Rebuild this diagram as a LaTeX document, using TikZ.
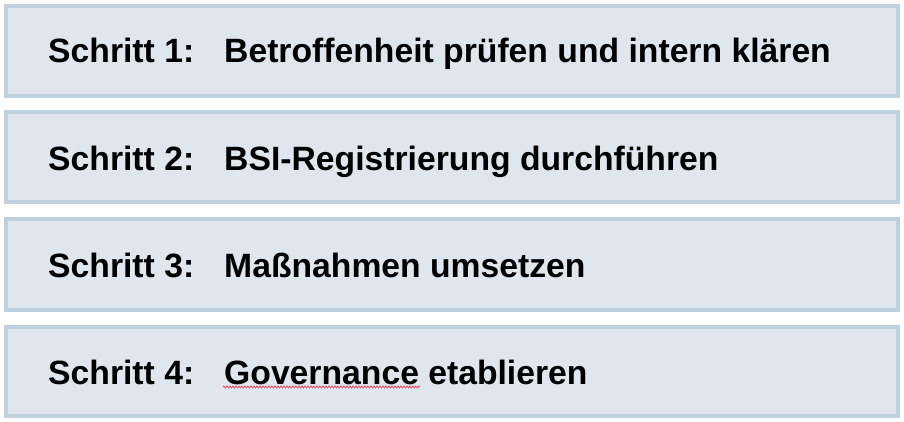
\documentclass[tikz,border=0pt]{standalone}
\usepackage{fontspec}
\setmainfont{Liberation Sans}
\usetikzlibrary{decorations.pathmorphing}
\definecolor{boxfill}{HTML}{DFE6EE}
\definecolor{boxline}{HTML}{BFD0DF}
\definecolor{spellred}{HTML}{E8506A}
\tikzset{
  stepbox/.style={draw=boxline, fill=boxfill, line width=4pt, inner sep=0pt, minimum width=892pt},
  steplabel/.style={anchor=base west, inner sep=0pt, font=\fontsize{33.7}{40}\selectfont\bfseries},
}
\begin{document}
\begin{tikzpicture}[x=1pt,y=-1pt]
\useasboundingbox (0,0) rectangle (904,422);
\node[stepbox, minimum height=90pt] (box1) at (452,51) {};
\node[stepbox, minimum height=90pt] (box2) at (452,157) {};
\node[stepbox, minimum height=91pt] (box3) at (452,264.5) {};
\node[stepbox, minimum height=89pt] (box4) at (452,371.5) {};
\node[steplabel] (s1) at (48,63) {Schritt 1:};
\node[steplabel] (t1) at (224,63) {Betroffenheit prüfen und intern klären};
\node[steplabel] (s2) at (48,171) {Schritt 2:};
\node[steplabel] (t2) at (224,171) {BSI-Registrierung durchführen};
\node[steplabel] (s3) at (48,277) {Schritt 3:};
\node[steplabel] (t3) at (224,277) {Maßnahmen umsetzen};
\node[steplabel] (s4) at (48,384) {Schritt 4:};
\node[steplabel] (t4) at (224,384) {Governance etablieren};
\coordinate (sqa) at (223,387);
\coordinate (sqb) at (420,387);
\draw[spellred, line width=0.9pt, decorate, decoration={snake, amplitude=0.9pt, segment length=3pt}] (sqa) -- (sqb);
\end{tikzpicture}
\end{document}
